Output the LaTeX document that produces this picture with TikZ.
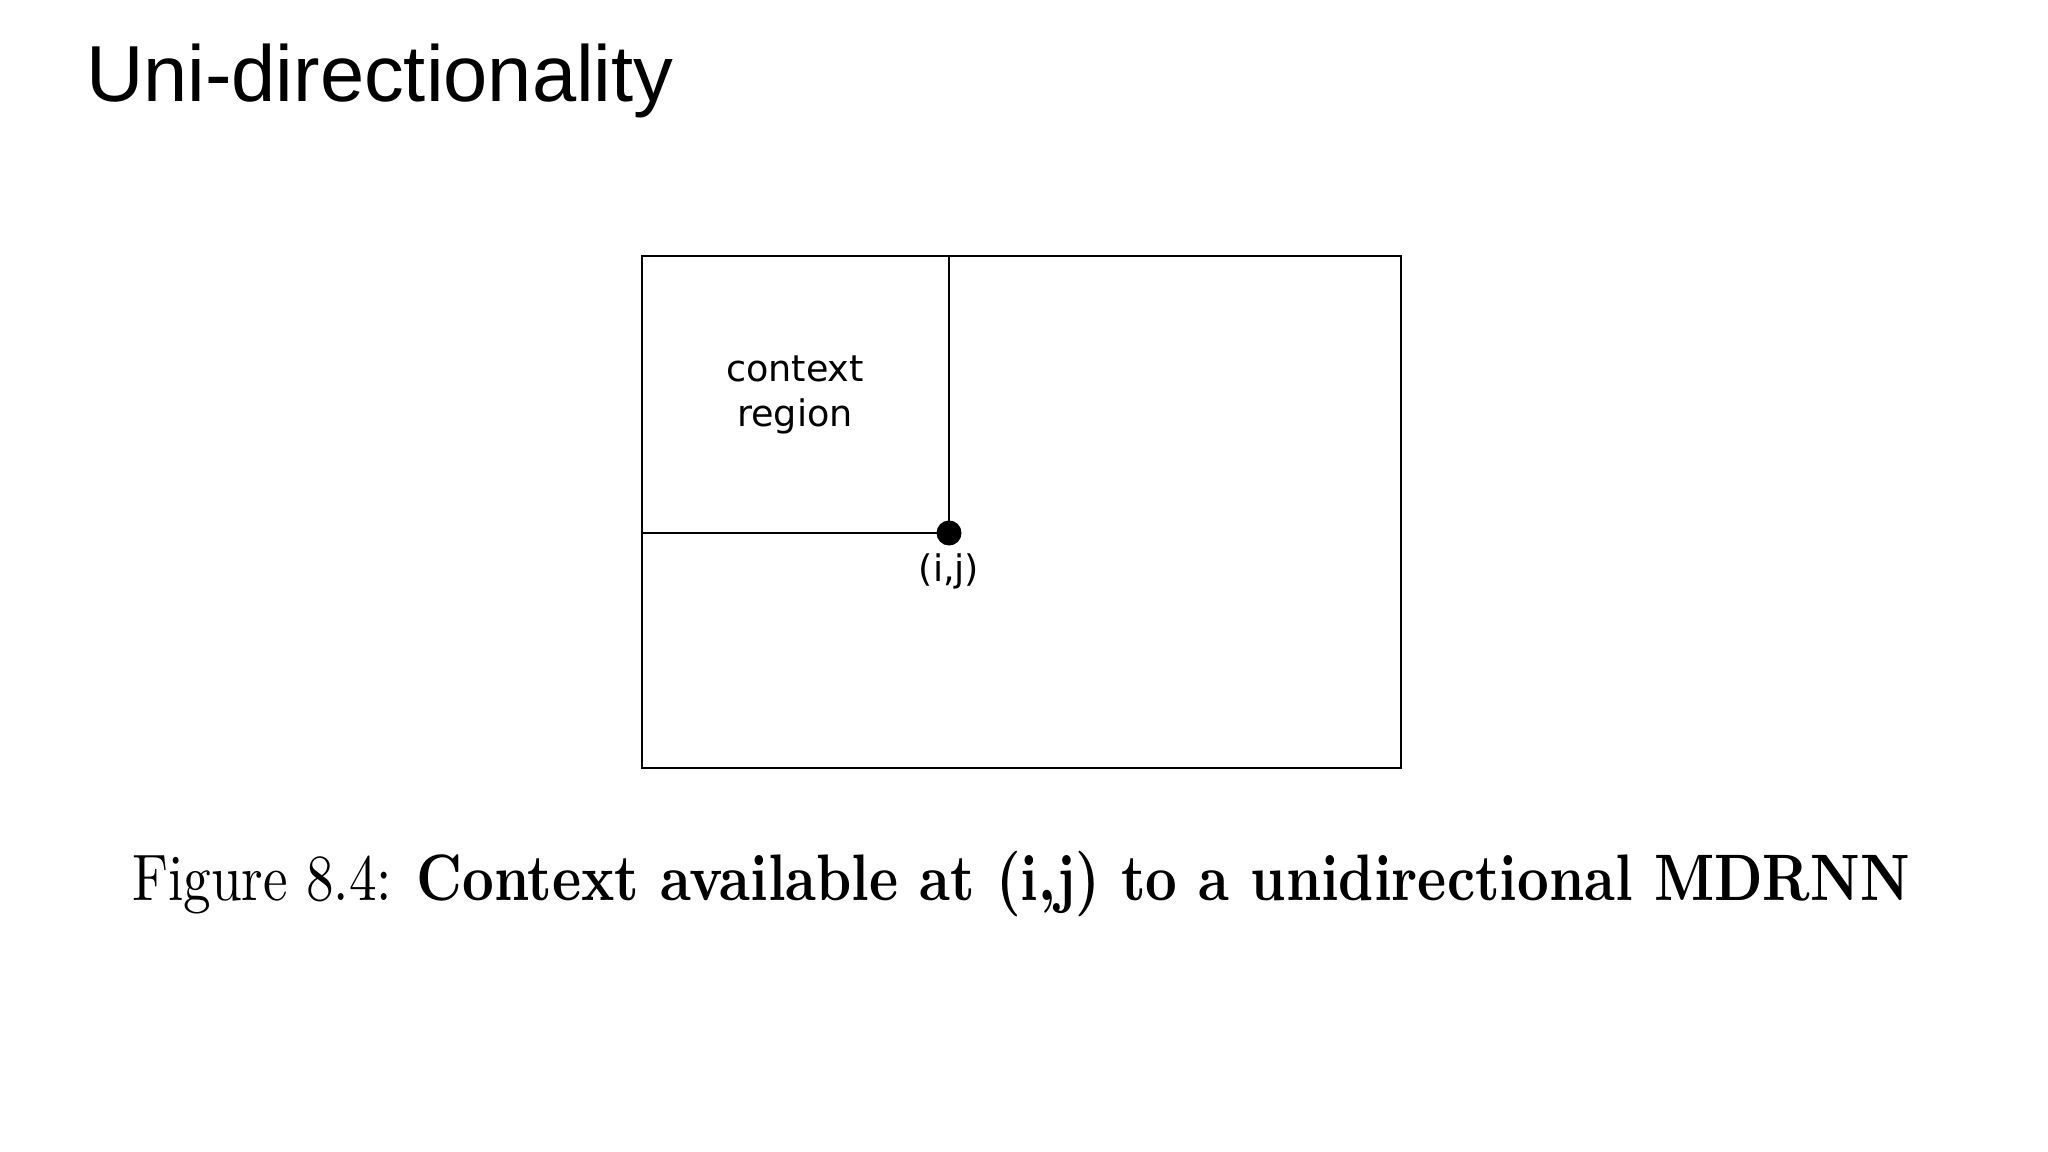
\documentclass[tikz,border=0pt]{standalone}
\usepackage{fontspec}
\setsansfont{Liberation Sans}
\newfontfamily\dejavu{DejaVu Sans}
\usetikzlibrary{positioning}

\begin{document}
\begin{tikzpicture}[x=0.01cm,y=-0.01cm,line width=0.6pt,
  title node/.style={font=\sffamily\fontsize{22.6}{26}\selectfont,anchor=base west,inner sep=0},
  label node/.style={font=\dejavu\fontsize{10.4}{12.8}\selectfont,align=center,inner sep=0},
  dot node/.style={circle,fill=black,inner sep=0,minimum size=0.25cm},
  caption node/.style={font=\fontsize{10}{12}\selectfont,anchor=base,inner sep=0}]

  \useasboundingbox (0,0) rectangle (2048,1152);

  \node[title node] (title) at (85,102) {Uni-directionality};

  \coordinate (tl) at (642,256);
  \coordinate (br) at (1401,768);
  \node[dot node] (ij) at (949,533) {};

  \draw (tl) rectangle (br);
  \draw (ij.center) -- (ij |- tl);
  \draw (ij.center) -- (ij -| tl);

  \node[label node] (ctx) at (795,395) {context\\region};
  \node[label node, below=0.06cm of ij] (ijlabel) {(i,j)};

  \node[caption node] (caption) at (1021,900)
    {\scalebox{1.569}[1.87]{Figure 8.4: \textbf{Context available at (i,j) to a unidirectional MDRNN}}};
\end{tikzpicture}
\end{document}
